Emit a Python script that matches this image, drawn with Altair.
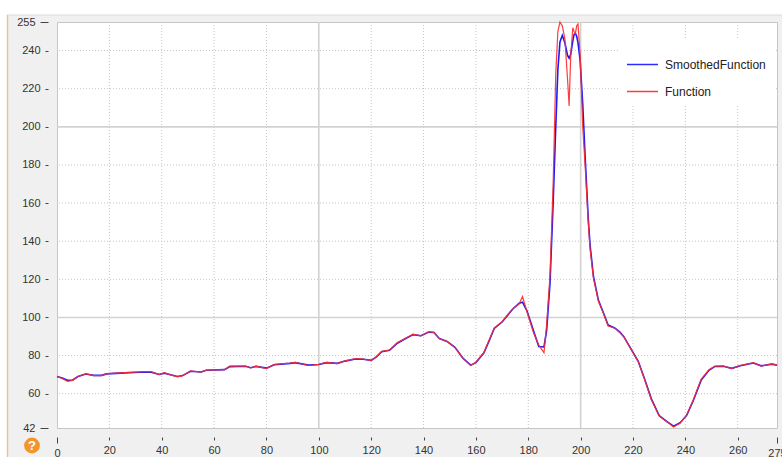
import altair as alt
import pandas as pd

# Sample positions shared by both series
x_vals = [0, 2, 4, 6, 8, 11, 14, 17, 19, 26, 33, 36, 39, 41, 43, 46, 48, 51, 55, 57,
          64, 66, 72, 74, 76, 80, 83, 89, 91, 96, 100, 103, 107, 110, 114, 117, 120,
          122, 124, 127, 130, 133, 136, 139, 142, 144, 146, 149, 152, 155, 158, 160,
          163, 165, 167, 170, 174, 176.5, 177.8, 179.5, 182, 184, 186, 187, 188.3,
          189.5, 190.5, 191.3, 192.1, 193, 194, 195, 195.6, 196.2, 197, 197.5, 198,
          198.5, 199, 199.8, 200.8, 201.7, 202.9, 203.6, 204.9, 206.8, 208.7, 210.5,
          213, 215, 216.5, 219, 222, 224.5, 227, 230, 233, 235.5, 238, 240.5, 243,
          246, 249, 251.3, 254.5, 257.7, 261, 266, 269, 273, 275]

function_vals = [69, 68, 66.5, 67, 69, 70.5, 69.5, 69.5, 70.5, 71, 71.5, 71.5, 70, 71, 70,
                 68.8, 69.5, 72, 71.3, 72.4, 72.6, 74.5, 74.5, 73.5, 74.4, 73.2, 75.4, 76,
                 76.5, 74.8, 75.4, 76.5, 75.8, 77.2, 78.4, 78.2, 77.4, 79.5, 82.2, 82.9,
                 86.8, 89, 91.2, 90.3, 92.5, 92.2, 88.8, 87.3, 84.3, 78.5, 74.8, 76.5, 81.5,
                 88, 94.5, 97.8, 104.5, 107, 111, 103, 92, 85.5, 81.5, 96, 122, 170, 228,
                 250, 255, 253, 246, 225, 211, 237, 252, 250, 249, 253, 254, 238, 200, 180,
                 150, 136, 120.5, 108.5, 102, 95.5, 94.5, 92, 89.8, 83.8, 76.8, 67.2, 57,
                 48.2, 45.2, 42.5, 44.5, 48.8, 56.7, 67.5, 72.6, 74.5, 74.6, 73.1, 74.9,
                 76.3, 74.5, 75.6, 75]

smoothed_vals = [69, 68.2, 67, 67.2, 69, 70.3, 69.6, 69.6, 70.4, 70.9, 71.4, 71.3, 70.1,
                 70.8, 70.1, 69, 69.5, 71.8, 71.4, 72.3, 72.6, 74.2, 74.4, 73.6, 74.3, 73.4,
                 75.2, 75.9, 76.3, 75, 75.3, 76.3, 75.9, 77.1, 78.2, 78.1, 77.5, 79.3, 82,
                 82.8, 86.5, 88.8, 91, 90.4, 92.3, 92.1, 89, 87.4, 84.3, 78.7, 75, 76.3,
                 81.3, 87.5, 94.2, 97.6, 104.3, 107.5, 108, 103.5, 93, 84.7, 84.5, 93, 118,
                 160, 200, 230, 244.5, 248, 244, 237.5, 236, 238, 245, 248.5, 249, 247.5,
                 244, 235, 212, 185, 152, 138, 121.5, 109, 102.5, 96, 94.5, 92.3, 89.9, 84,
                 77, 67.5, 57.3, 48.5, 45.3, 43, 44.8, 48.6, 56.3, 67, 72.3, 74.3, 74.4,
                 73.3, 74.7, 76.1, 74.6, 75.5, 75]

series_names = ["SmoothedFunction", "Function"]
series_colors = ["#1a1aff", "#ff2b2b"]

x_ticks = [0, 20, 40, 60, 80, 100, 120, 140, 160, 180, 200, 220, 240, 260, 275]
y_ticks = [42, 60, 80, 100, 120, 140, 160, 180, 200, 220, 240, 255]
x_grid_minor = [20, 40, 60, 80, 120, 140, 160, 180, 220, 240, 260]
x_grid_major = [100, 200]
y_grid_minor = [60, 80, 120, 140, 160, 180, 220, 240]
y_grid_major = [100, 200]

FONT = "Liberation Sans"
W, H = 720, 406

n = len(x_vals)
lines = pd.DataFrame({
    "x": x_vals + x_vals,
    "value": smoothed_vals + function_vals,
    "series": [series_names[0]] * n + [series_names[1]] * n,
})

xscale = alt.Scale(domain=[0, 275], nice=False, zero=False)
yscale = alt.Scale(domain=[42, 255], nice=False, zero=False)

end_tick_x = {"condition": {"test": "datum.value == 0 || datum.value == 275", "value": 6}, "value": 3}
end_tick_y = {"condition": {"test": "datum.value == 42 || datum.value == 255", "value": 8}, "value": 3}

x_axis = alt.Axis(values=x_ticks, offset=9, domain=False, grid=False, title=None,
                  tickSize=end_tick_x, tickColor="#444", labelPadding=4,
                  labelFont=FONT, labelFontSize=11, labelColor="#333", labelFlush=False)
y_axis = alt.Axis(values=y_ticks, offset=9, domain=False, grid=False, title=None,
                  tickSize=end_tick_y, tickColor="#444", labelPadding=5,
                  labelFont=FONT, labelFontSize=11, labelColor="#333")

one_row = pd.DataFrame({"k": [0]})

# window chrome around the plot panel
top_strip = alt.Chart(one_row).mark_rect(color="white").encode(
    x=alt.value(-57), x2=alt.value(W + 5), y=alt.value(-22), y2=alt.value(-7))
top_line = alt.Chart(one_row).mark_rule(color="#dadada", strokeWidth=1).encode(
    x=alt.value(-50), x2=alt.value(W + 5), y=alt.value(-7))
left_strip = alt.Chart(one_row).mark_rect(color="white").encode(
    x=alt.value(-57), x2=alt.value(-50), y=alt.value(-22), y2=alt.value(H + 29))
left_line = alt.Chart(one_row).mark_rule(color="#e6c594", strokeWidth=1.5).encode(
    x=alt.value(-49.5), y=alt.value(-7), y2=alt.value(H + 29))
help_dot = alt.Chart(one_row).mark_circle(color="#f2952c", opacity=1, size=250).encode(
    x=alt.value(-25), y=alt.value(423.5))
help_mark = alt.Chart(one_row).mark_text(text="?", color="white", font=FONT,
                                         fontSize=13, fontWeight="bold").encode(
    x=alt.value(-25), y=alt.value(424))

# grid lines
gx_minor = alt.Chart(pd.DataFrame({"g": x_grid_minor})).mark_rule(
    color="#c4c4c4", strokeDash=[1, 2], strokeWidth=1).encode(
    x=alt.X("g:Q", scale=xscale, axis=x_axis))
gx_major = alt.Chart(pd.DataFrame({"g": x_grid_major})).mark_rule(
    color="#d2d2d2", strokeWidth=1.6).encode(
    x=alt.X("g:Q", scale=xscale, axis=x_axis))
gy_minor = alt.Chart(pd.DataFrame({"g": y_grid_minor})).mark_rule(
    color="#c4c4c4", strokeDash=[1, 2], strokeWidth=1).encode(
    y=alt.Y("g:Q", scale=yscale, axis=y_axis))
gy_major = alt.Chart(pd.DataFrame({"g": y_grid_major})).mark_rule(
    color="#d2d2d2", strokeWidth=1.6).encode(
    y=alt.Y("g:Q", scale=yscale, axis=y_axis))

color = alt.Color(
    "series:N",
    scale=alt.Scale(domain=series_names, range=series_colors),
    legend=alt.Legend(title=None, orient="none", legendX=561, legendY=18,
                      fillColor="white", padding=8, symbolType="stroke",
                      symbolSize=961, symbolStrokeWidth=1.5, labelOffset=6,
                      labelFont=FONT, labelFontSize=12, labelColor="#222",
                      rowPadding=4, labelLimit=200),
)

base = alt.Chart(lines).encode(
    x=alt.X("x:Q", scale=xscale, axis=x_axis),
    y=alt.Y("value:Q", scale=yscale, axis=y_axis),
    color=color,
)
smooth_line = base.transform_filter(alt.datum.series == series_names[0]).mark_line(
    strokeWidth=1.6)
func_line = base.transform_filter(alt.datum.series == series_names[1]).mark_line(
    strokeWidth=1.2, opacity=0.92)

chart = alt.layer(
    top_strip, top_line, left_strip, left_line, help_dot, help_mark,
    gx_minor, gx_major, gy_minor, gy_major,
    smooth_line, func_line,
).resolve_scale(x="shared", y="shared").properties(
    width=W, height=H,
    autosize=alt.AutoSizeParams(type="none"),
    padding={"left": 57, "top": 22, "right": 5, "bottom": 29},
    background="#f0f0f0",
).configure_view(fill="white", stroke="#c6c6c6", strokeWidth=1)

chart.save("out.html", embed_options={"renderer": "svg", "actions": False})
